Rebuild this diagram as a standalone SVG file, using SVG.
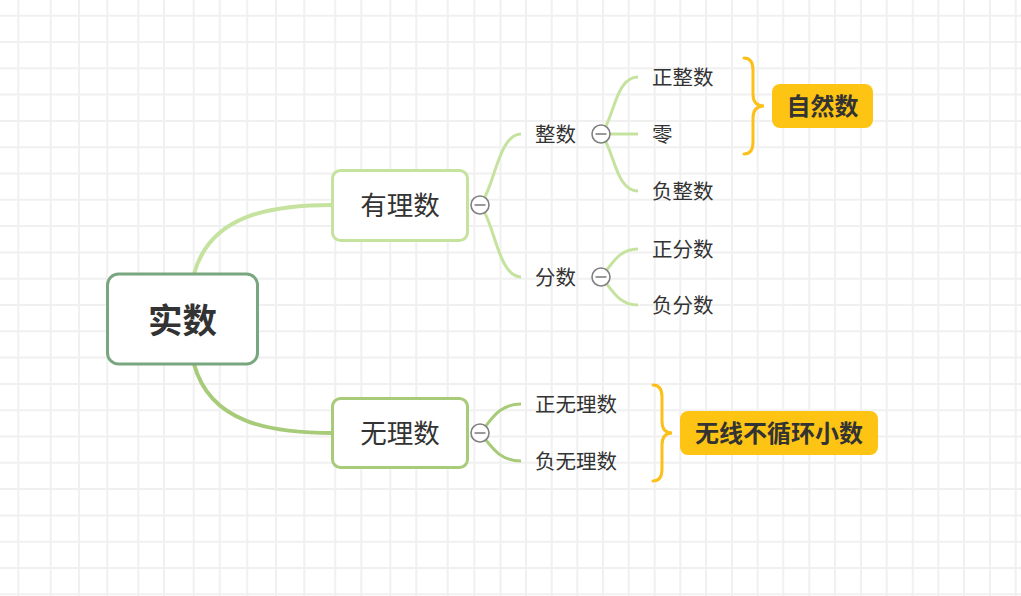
<svg xmlns="http://www.w3.org/2000/svg" width="1021" height="596" viewBox="0 0 1021 596">
<style>
.grid line{stroke:#f0f0f0;stroke-width:2}
text{font-family:"Noto Sans CJK SC","Noto Sans",sans-serif;fill:#333;dominant-baseline:central}
.c1{fill:none;stroke:#c5e39f;stroke-width:3}
.c2{fill:none;stroke:#a8cb7a;stroke-width:3}
.brace{fill:none;stroke:#fcc01a;stroke-width:3;stroke-linecap:round}
.tog circle{fill:#fff;stroke:#808080;stroke-width:1.6}
.tog line{stroke:#808080;stroke-width:1.6}
.leaf{font-size:20.5px}
.lbl rect{fill:#fdc414}
.lbl text{font-size:24px;font-weight:bold;text-anchor:middle}
</style>
<rect width="1021" height="596" fill="#fff"/>
<g class="grid">
<line x1="18.3" y1="0" x2="18.3" y2="596"/><line x1="50.7" y1="0" x2="50.7" y2="596"/><line x1="79" y1="0" x2="79" y2="596"/><line x1="107.3" y1="0" x2="107.3" y2="596"/><line x1="138.3" y1="0" x2="138.3" y2="596"/><line x1="164" y1="0" x2="164" y2="596"/><line x1="193.7" y1="0" x2="193.7" y2="596"/><line x1="219.7" y1="0" x2="219.7" y2="596"/><line x1="247.3" y1="0" x2="247.3" y2="596"/><line x1="276" y1="0" x2="276" y2="596"/><line x1="304.3" y1="0" x2="304.3" y2="596"/><line x1="335.3" y1="0" x2="335.3" y2="596"/><line x1="361.3" y1="0" x2="361.3" y2="596"/><line x1="390.3" y1="0" x2="390.3" y2="596"/><line x1="416.3" y1="0" x2="416.3" y2="596"/><line x1="447.7" y1="0" x2="447.7" y2="596"/><line x1="474.3" y1="0" x2="474.3" y2="596"/><line x1="500.5" y1="0" x2="500.5" y2="596"/><line x1="526" y1="0" x2="526" y2="596"/><line x1="551.7" y1="0" x2="551.7" y2="596"/><line x1="577.3" y1="0" x2="577.3" y2="596"/><line x1="603" y1="0" x2="603" y2="596"/><line x1="628.7" y1="0" x2="628.7" y2="596"/><line x1="654.7" y1="0" x2="654.7" y2="596"/><line x1="680.3" y1="0" x2="680.3" y2="596"/><line x1="706" y1="0" x2="706" y2="596"/><line x1="732" y1="0" x2="732" y2="596"/><line x1="757.7" y1="0" x2="757.7" y2="596"/><line x1="783.3" y1="0" x2="783.3" y2="596"/><line x1="809.3" y1="0" x2="809.3" y2="596"/><line x1="835" y1="0" x2="835" y2="596"/><line x1="861" y1="0" x2="861" y2="596"/><line x1="886.7" y1="0" x2="886.7" y2="596"/><line x1="912.7" y1="0" x2="912.7" y2="596"/><line x1="938.3" y1="0" x2="938.3" y2="596"/><line x1="964" y1="0" x2="964" y2="596"/><line x1="990" y1="0" x2="990" y2="596"/><line x1="1015.7" y1="0" x2="1015.7" y2="596"/>
<line x1="0" y1="15.7" x2="1021" y2="15.7"/><line x1="0" y1="42" x2="1021" y2="42"/><line x1="0" y1="68.3" x2="1021" y2="68.3"/><line x1="0" y1="94.6" x2="1021" y2="94.6"/><line x1="0" y1="120.9" x2="1021" y2="120.9"/><line x1="0" y1="147.2" x2="1021" y2="147.2"/><line x1="0" y1="173.5" x2="1021" y2="173.5"/><line x1="0" y1="199.8" x2="1021" y2="199.8"/><line x1="0" y1="226.1" x2="1021" y2="226.1"/><line x1="0" y1="252.4" x2="1021" y2="252.4"/><line x1="0" y1="278.7" x2="1021" y2="278.7"/><line x1="0" y1="305" x2="1021" y2="305"/><line x1="0" y1="331.3" x2="1021" y2="331.3"/><line x1="0" y1="357.6" x2="1021" y2="357.6"/><line x1="0" y1="383.9" x2="1021" y2="383.9"/><line x1="0" y1="410.2" x2="1021" y2="410.2"/><line x1="0" y1="436.5" x2="1021" y2="436.5"/><line x1="0" y1="462.8" x2="1021" y2="462.8"/><line x1="0" y1="489.1" x2="1021" y2="489.1"/><line x1="0" y1="515.4" x2="1021" y2="515.4"/><line x1="0" y1="541.7" x2="1021" y2="541.7"/><line x1="0" y1="568" x2="1021" y2="568"/><line x1="0" y1="594.3" x2="1021" y2="594.3"/>
</g>
<g id="connectors">
<path d="M194,274 C210,215 270,205 333,205" fill="none" stroke="#c5e39f" stroke-width="4"/>
<path d="M194,364 C210,423 270,433 333,433" fill="none" stroke="#a8cb7a" stroke-width="4"/>
<path class="c1" d="M480,205 C494,190 498,134 521,134"/>
<path class="c1" d="M480,205 C494,220 498,277 521,277"/>
<path class="c1" d="M601,134 C614,120 615,77 638,77"/>
<path class="c1" d="M601,134 L638,134"/>
<path class="c1" d="M601,134 C614,148 615,191 638,191"/>
<path class="c1" d="M601,277 C612,265 618,249 638,249"/>
<path class="c1" d="M601,277 C612,289 618,305 638,305"/>
<path class="c2" d="M480,433 C491,421 498,404 521,404"/>
<path class="c2" d="M480,433 C491,445 498,461 521,461"/>
</g>
<g id="root">
<rect x="107.5" y="274" width="150" height="90" rx="11" fill="#fff" stroke="#78a67e" stroke-width="3"/>
<text x="182.5" y="318" font-size="34.5" font-weight="bold" text-anchor="middle">实数</text>
</g>
<g id="youlishu">
<rect x="332.5" y="170.5" width="135" height="70" rx="8" fill="#fff" stroke="#c5e39f" stroke-width="3"/>
<text x="400" y="203.5" font-size="26.5" text-anchor="middle">有理数</text>
</g>
<g id="wulishu">
<rect x="332.5" y="398.5" width="135" height="69" rx="8" fill="#fff" stroke="#a8cb7a" stroke-width="3"/>
<text x="400" y="431.5" font-size="26.5" text-anchor="middle">无理数</text>
</g>
<g id="zhengshu"><text class="leaf" x="535" y="132.5">整数</text></g>
<g id="fenshu"><text class="leaf" x="535" y="275.5">分数</text></g>
<g id="zhengzhengshu"><text class="leaf" x="652" y="75.5">正整数</text></g>
<g id="ling"><text class="leaf" x="652" y="132.5">零</text></g>
<g id="fuzhengshu"><text class="leaf" x="652" y="189.5">负整数</text></g>
<g id="zhengfenshu"><text class="leaf" x="652" y="247.5">正分数</text></g>
<g id="fufenshu"><text class="leaf" x="652" y="303.5">负分数</text></g>
<g id="zhengwulishu"><text class="leaf" x="535" y="402.5">正无理数</text></g>
<g id="fuwulishu"><text class="leaf" x="535" y="459.5">负无理数</text></g>
<g class="tog" id="toggles">
<circle cx="480" cy="205" r="9"/><line x1="474.5" y1="205" x2="485.5" y2="205"/>
<circle cx="480" cy="433" r="9"/><line x1="474.5" y1="433" x2="485.5" y2="433"/>
<circle cx="601" cy="134" r="9"/><line x1="595.5" y1="134" x2="606.5" y2="134"/>
<circle cx="601" cy="277" r="9"/><line x1="595.5" y1="277" x2="606.5" y2="277"/>
</g>
<g id="brace1">
<path class="brace" d="M744,58 Q753,58 753,70 L753,94 Q753,106 764,106 Q753,106 753,118 L753,142 Q753,154 744,154"/>
</g>
<g id="ziranshu" class="lbl">
<rect x="772" y="84" width="101" height="44" rx="8"/>
<text x="822.5" y="104.5">自然数</text>
</g>
<g id="brace2">
<path class="brace" d="M653,385 Q662,385 662,397 L662,421 Q662,433 672,433 Q662,433 662,445 L662,469 Q662,481 653,481"/>
</g>
<g id="wuxian" class="lbl">
<rect x="680" y="411" width="198" height="44" rx="8"/>
<text x="779" y="431.5">无线不循环小数</text>
</g>
</svg>
